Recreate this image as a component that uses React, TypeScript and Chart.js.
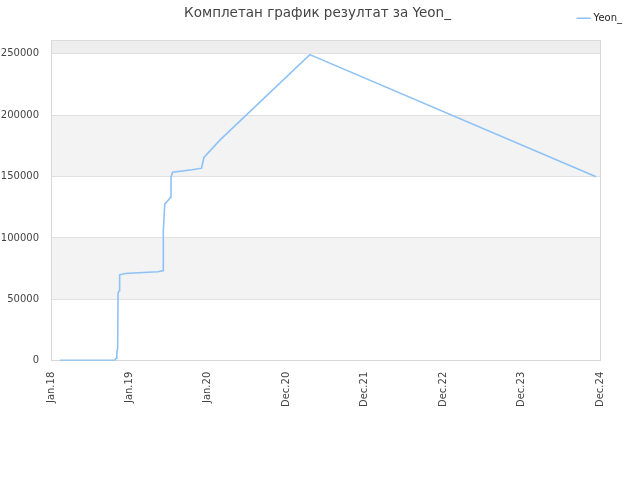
import React, { useEffect, useRef } from "react";
import { Chart, registerables } from "chart.js";

Chart.register(...registerables);

const TITLE = "Комплетан график резултат за Yeon_";
const SERIES_NAME = "Yeon_";
const X_TICK_LABELS = ["Jan.18", "Jan.19", "Jan.20", "Dec.20", "Dec.21", "Dec.22", "Dec.23", "Dec.24"];
// x positions expressed in tick-label units (0 = Jan.18 ... 7 = Dec.24)
const X_POS = [
  0.115, 0.81, 0.83, 0.84, 0.85, 0.855, 0.87, 0.875, 0.95, 1.0, 1.36, 1.43, 1.432,
  1.45, 1.5, 1.52, 1.53, 1.55, 1.8, 1.92, 1.93, 1.95, 2.15, 3.3, 6.95,
];
const Y_VALUES = [
  300, 300, 2000, 7000, 10000, 55000, 57000, 70000, 71000, 71300, 72500, 73400, 105000,
  127500, 131000, 133000, 149500, 153500, 155500, 156800, 160000, 165500, 179400, 249300, 149800,
];
const Y_TICKS = [0, 50000, 100000, 150000, 200000, 250000];
const Y_MAX = 261000;

const bandPlugin = {
  id: "bands",
  beforeDraw(chart: any) {
    const { ctx, chartArea, scales } = chart;
    const y = scales.y;
    ctx.save();
    const bounds = [...Y_TICKS, Y_MAX];
    for (let i = 0; i < bounds.length - 1; i++) {
      if (i % 2 === 1) {
        const top = y.getPixelForValue(bounds[i + 1]);
        const bottom = y.getPixelForValue(bounds[i]);
        ctx.fillStyle = i === bounds.length - 2 ? "#eeeeee" : "#f3f3f3";
        ctx.fillRect(chartArea.left, top, chartArea.right - chartArea.left, bottom - top);
      }
    }
    ctx.restore();
  },
};

export default function App() {
  const ref = useRef<HTMLCanvasElement>(null);
  useEffect(() => {
    document.body.style.margin = "0";
    const data = X_POS.map((x, i) => ({ x, y: Y_VALUES[i] }));
    const chart = new Chart(ref.current as HTMLCanvasElement, {
      type: "line",
      data: {
        datasets: [
          {
            label: SERIES_NAME,
            data,
            borderColor: "#8ec2f6",
            backgroundColor: "#8ec2f6",
            borderWidth: 1.6,
            pointRadius: 0,
            fill: false,
            tension: 0,
          },
        ],
      },
      plugins: [bandPlugin],
      options: {
        animation: false,
        responsive: false,
        layout: { padding: { left: 0, right: 5, top: 0, bottom: 70 } },
        plugins: {
          title: {
            display: true,
            text: TITLE,
            color: "#444",
            font: { family: "DejaVu Sans", size: 13.5, weight: "normal" },
            padding: { top: 5, bottom: -21 },
          },
          legend: {
            position: "top",
            align: "end",
            labels: {
              usePointStyle: true,
              pointStyle: "line",
              boxWidth: 10,
              color: "#222",
              font: { family: "DejaVu Sans", size: 10 },
              padding: 13,
            },
          },
          tooltip: { enabled: false },
        },
        scales: {
          x: {
            type: "linear",
            min: 0,
            max: 7,
            grid: { display: false },
            border: { color: "#d8d8d8" },
            ticks: {
              stepSize: 1,
              minRotation: 90,
              maxRotation: 90,
              color: "#444",
              font: { family: "DejaVu Sans", size: 10 },
              callback: (v: any) => X_TICK_LABELS[Math.round(Number(v))] ?? "",
            },
          },
          xTop: {
            type: "linear",
            position: "top",
            display: true,
            grid: { display: false, drawTicks: false },
            border: { display: true, color: "#dcdcdc" },
            ticks: { display: false },
            afterFit: (scale: any) => {
              scale.height = 7;
            },
          },
          y: {
            min: 0,
            max: Y_MAX,
            afterBuildTicks: (scale: any) => {
              scale.ticks = Y_TICKS.map((v) => ({ value: v }));
            },
            afterFit: (scale: any) => {
              scale.width = 51;
            },
            grid: { color: "#e0e0e0", drawTicks: false },
            border: { color: "#d8d8d8" },
            ticks: {
              padding: 12,
              color: "#444",
              font: { family: "DejaVu Sans", size: 10 },
              callback: (v: any) => String(v),
            },
          },
          yRight: {
            position: "right",
            display: true,
            grid: { display: false, drawTicks: false },
            border: { color: "#d8d8d8" },
            ticks: { display: false },
            afterFit: (scale: any) => {
              scale.width = 35;
            },
          },
        },
      },
    } as any);
    return () => chart.destroy();
  }, []);
  return (
    <div style={{ position: "absolute", left: 0, top: 0, width: 640, height: 480 }}>
      <canvas ref={ref} width={640} height={480} />
    </div>
  );
}
